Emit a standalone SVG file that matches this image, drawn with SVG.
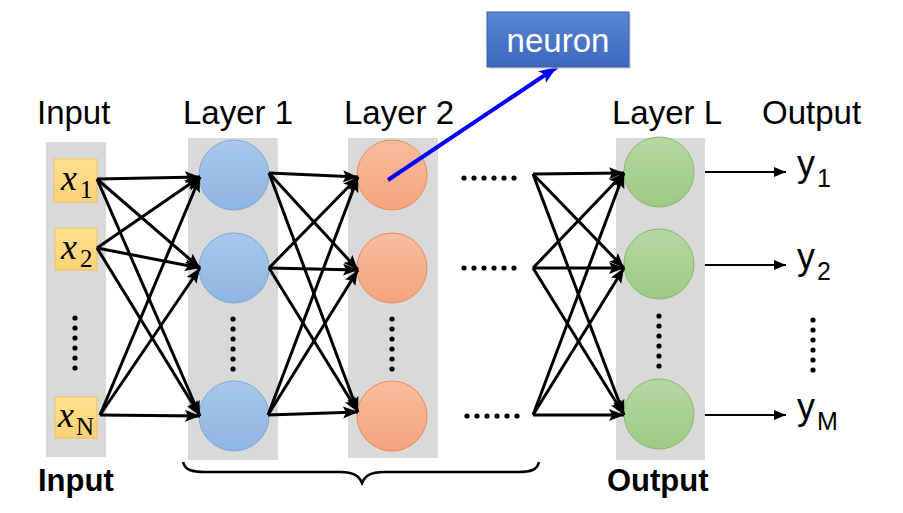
<svg xmlns="http://www.w3.org/2000/svg" width="903" height="513" viewBox="0 0 903 513">
<defs>
<linearGradient id="gBlue" x1="0" y1="0" x2="0" y2="1"><stop offset="0" stop-color="#a8c8ec"/><stop offset="1" stop-color="#8fb5e2"/></linearGradient>
<linearGradient id="gOrange" x1="0" y1="0" x2="0" y2="1"><stop offset="0" stop-color="#f7bd9e"/><stop offset="1" stop-color="#f4a47c"/></linearGradient>
<linearGradient id="gGreen" x1="0" y1="0" x2="0" y2="1"><stop offset="0" stop-color="#b6d8a3"/><stop offset="1" stop-color="#9dca84"/></linearGradient>
<linearGradient id="gYellow" x1="0" y1="0" x2="0" y2="1"><stop offset="0" stop-color="#ffe08f"/><stop offset="1" stop-color="#fdd274"/></linearGradient>
<linearGradient id="gNeuron" x1="0" y1="0" x2="0" y2="1"><stop offset="0" stop-color="#5a86d6"/><stop offset="1" stop-color="#3d67bb"/></linearGradient>
<marker id="ah" markerUnits="userSpaceOnUse" markerWidth="16" markerHeight="13" refX="15" refY="6" orient="auto"><path d="M0,0 L15,6 L0,12 L3,6 z" fill="#000"/></marker>
<marker id="ahs" markerUnits="userSpaceOnUse" markerWidth="13" markerHeight="11" refX="12" refY="5" orient="auto"><path d="M0,0 L12,5 L0,10 z" fill="#000"/></marker>
<marker id="ahb" markerUnits="userSpaceOnUse" markerWidth="20" markerHeight="16" refX="18" refY="7" orient="auto"><path d="M0,0 L18,7 L0,14 L4,7 z" fill="#0000ff"/></marker>
</defs>
<style>
.col{fill:#d9d9d9}
.lbl{font-family:"Liberation Sans",Arial,sans-serif;font-size:33px;fill:#000}
.blbl{font-family:"Liberation Sans",Arial,sans-serif;font-size:31px;font-weight:bold;fill:#000}
.xv{font-family:"Liberation Serif","Times New Roman",serif;font-size:36px;font-style:italic;fill:#000}
.xs{font-family:"Liberation Serif","Times New Roman",serif;font-size:25px;fill:#000}
.yv{font-family:"Liberation Sans",Arial,sans-serif;font-size:36px;fill:#000}
.ys{font-family:"Liberation Sans",Arial,sans-serif;font-size:25px;fill:#000}
.inbox{fill:url(#gYellow);stroke:#f2c162;stroke-width:1}
.nb{fill:url(#gBlue);stroke:#7ea6d6;stroke-width:1}
.no{fill:url(#gOrange);stroke:#e98a5c;stroke-width:1}
.ng{fill:url(#gGreen);stroke:#86b96a;stroke-width:1}
.dot{fill:#000}
.conn line{stroke:#000;stroke-width:3;marker-end:url(#ah)}
.out line{stroke:#000;stroke-width:2.2;marker-end:url(#ahs)}
</style>
<rect width="903" height="513" fill="#fff"/>

<!-- columns -->
<rect class="col" x="46" y="142" width="60" height="315"/>
<rect class="col" x="188" y="138" width="90" height="322"/>
<rect class="col" x="348" y="138" width="90" height="320"/>
<rect class="col" x="616" y="138" width="89" height="322"/>

<!-- top labels -->
<text class="lbl" x="37" y="124">Input</text>
<text class="lbl" x="183" y="124">Layer 1</text>
<text class="lbl" x="344" y="124">Layer 2</text>
<text class="lbl" x="612" y="124">Layer L</text>
<text class="lbl" x="762" y="124">Output</text>

<!-- input nodes -->
<g id="x1"><rect class="inbox" x="54" y="159" width="43" height="43"/><text class="xv" x="61" y="190">x</text><text class="xs" x="80" y="198">1</text></g>
<g id="x2"><rect class="inbox" x="55" y="228" width="42" height="42"/><text class="xv" x="61" y="259">x</text><text class="xs" x="80" y="267">2</text></g>
<g id="xN"><rect class="inbox" x="55" y="397" width="42" height="41"/><text class="xv" x="58" y="427">x</text><text class="xs" x="76" y="435">N</text></g>

<!-- layer 1 -->
<g id="l1n1"><circle class="nb" cx="234" cy="175" r="35"/></g>
<g id="l1n2"><circle class="nb" cx="234" cy="268" r="35"/></g>
<g id="l1n3"><circle class="nb" cx="234" cy="416" r="35"/></g>
<!-- layer 2 -->
<g id="l2n1"><circle class="no" cx="392" cy="175" r="35"/></g>
<g id="l2n2"><circle class="no" cx="392" cy="268" r="35"/></g>
<g id="l2n3"><circle class="no" cx="392" cy="416" r="35"/></g>
<!-- layer L -->
<g id="lLn1"><circle class="ng" cx="659" cy="172" r="35"/></g>
<g id="lLn2"><circle class="ng" cx="659" cy="264" r="35"/></g>
<g id="lLn3"><circle class="ng" cx="659" cy="414" r="35"/></g>

<!-- vertical dots -->
<g id="vdots" class="dot">
<circle cx="75" cy="318" r="2.6"/><circle cx="75" cy="328" r="2.6"/><circle cx="75" cy="338" r="2.6"/><circle cx="75" cy="348" r="2.6"/><circle cx="75" cy="358" r="2.6"/><circle cx="75" cy="368" r="2.6"/>
<circle cx="233" cy="319" r="2.6"/><circle cx="233" cy="329" r="2.6"/><circle cx="233" cy="339" r="2.6"/><circle cx="233" cy="349" r="2.6"/><circle cx="233" cy="359" r="2.6"/><circle cx="233" cy="369" r="2.6"/>
<circle cx="392" cy="319" r="2.6"/><circle cx="392" cy="329" r="2.6"/><circle cx="392" cy="339" r="2.6"/><circle cx="392" cy="349" r="2.6"/><circle cx="392" cy="359" r="2.6"/><circle cx="392" cy="369" r="2.6"/>
<circle cx="659" cy="316" r="2.6"/><circle cx="659" cy="326" r="2.6"/><circle cx="659" cy="336" r="2.6"/><circle cx="659" cy="346" r="2.6"/><circle cx="659" cy="356" r="2.6"/><circle cx="659" cy="366" r="2.6"/>
<circle cx="813" cy="320" r="2.6"/><circle cx="813" cy="330" r="2.6"/><circle cx="813" cy="340" r="2.6"/><circle cx="813" cy="350" r="2.6"/><circle cx="813" cy="360" r="2.6"/><circle cx="813" cy="370" r="2.6"/>
</g>
<!-- horizontal dots -->
<g id="hdots" class="dot">
<circle cx="464" cy="178" r="2.6"/><circle cx="474" cy="178" r="2.6"/><circle cx="484" cy="178" r="2.6"/><circle cx="494" cy="178" r="2.6"/><circle cx="504" cy="178" r="2.6"/><circle cx="514" cy="178" r="2.6"/>
<circle cx="464" cy="268" r="2.6"/><circle cx="474" cy="268" r="2.6"/><circle cx="484" cy="268" r="2.6"/><circle cx="494" cy="268" r="2.6"/><circle cx="504" cy="268" r="2.6"/><circle cx="514" cy="268" r="2.6"/>
<circle cx="467" cy="416" r="2.6"/><circle cx="477" cy="416" r="2.6"/><circle cx="487" cy="416" r="2.6"/><circle cx="497" cy="416" r="2.6"/><circle cx="507" cy="416" r="2.6"/><circle cx="517" cy="416" r="2.6"/>
</g>

<!-- connectors -->
<g id="connectors">
<g class="conn">
<line x1="97" y1="179" x2="200" y2="177"/><line x1="97" y1="179" x2="200" y2="268"/><line x1="97" y1="179" x2="200" y2="416"/>
<line x1="97" y1="248" x2="200" y2="177"/><line x1="97" y1="248" x2="200" y2="268"/><line x1="97" y1="248" x2="200" y2="416"/>
<line x1="100" y1="415" x2="200" y2="177"/><line x1="100" y1="415" x2="200" y2="268"/><line x1="100" y1="415" x2="200" y2="416"/>

<line x1="269" y1="173" x2="358" y2="177"/><line x1="269" y1="173" x2="358" y2="270"/><line x1="269" y1="173" x2="358" y2="412"/>
<line x1="269" y1="268" x2="358" y2="177"/><line x1="269" y1="268" x2="358" y2="270"/><line x1="269" y1="268" x2="358" y2="412"/>
<line x1="268" y1="415" x2="358" y2="177"/><line x1="268" y1="415" x2="358" y2="270"/><line x1="268" y1="415" x2="358" y2="412"/>

<line x1="533" y1="174" x2="624" y2="173"/><line x1="533" y1="174" x2="624" y2="268"/><line x1="533" y1="174" x2="624" y2="415"/>
<line x1="533" y1="268" x2="624" y2="173"/><line x1="533" y1="268" x2="624" y2="268"/><line x1="533" y1="268" x2="624" y2="415"/>
<line x1="533" y1="415" x2="624" y2="173"/><line x1="533" y1="415" x2="624" y2="268"/><line x1="533" y1="415" x2="624" y2="415"/>
</g>
<g class="out">
<line x1="705" y1="172" x2="786" y2="172"/>
<line x1="705" y1="265" x2="786" y2="265"/>
<line x1="705" y1="415" x2="786" y2="415"/>
</g>
<line x1="388" y1="180" x2="557" y2="67" stroke="#0000ff" stroke-width="4" marker-end="url(#ahb)"/>
</g>

<!-- outputs -->
<g id="y1"><text class="yv" x="797" y="176">y</text><text class="ys" x="817" y="187">1</text></g>
<g id="y2"><text class="yv" x="797" y="269">y</text><text class="ys" x="817" y="280">2</text></g>
<g id="yM"><text class="yv" x="797" y="419">y</text><text class="ys" x="817" y="430">M</text></g>

<!-- neuron label -->
<g id="neuron">
<rect x="489" y="14" width="142" height="55" fill="#c8c8c8" opacity="0.6"/>
<rect x="487" y="12" width="142" height="55" fill="url(#gNeuron)" stroke="#3a5fae" stroke-width="1"/>
<text x="558" y="52" text-anchor="middle" font-family="'Liberation Sans',Arial,sans-serif" font-size="33" fill="#fff">neuron</text>
</g>

<!-- brace -->
<path id="brace" d="M183,462 C185,470 192,472 205,472 L340,472 C354,472 359,476 362,483 C365,476 370,472 384,472 L518,472 C531,472 537,470 539,462" fill="none" stroke="#000" stroke-width="2.6"/>

<!-- bottom labels -->
<text class="blbl" x="38" y="491">Input</text>
<text class="blbl" x="607" y="491">Output</text>
</svg>
